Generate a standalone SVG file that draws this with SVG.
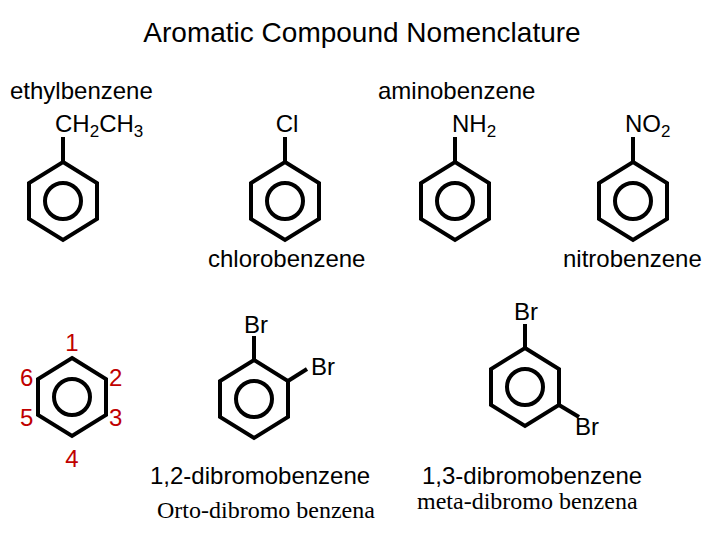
<svg xmlns="http://www.w3.org/2000/svg" width="720" height="540" viewBox="0 0 720 540">
<defs>
<style>
.r{fill:none;stroke:#000;stroke-width:4;stroke-linejoin:miter}
.b{stroke:#000;stroke-width:4}
text{font-family:"Liberation Sans",Arial,sans-serif;fill:#000;font-size:24px}
.s{font-family:"Liberation Serif","Times New Roman",serif}
.n{fill:#c00000;font-size:24px}
.sub{font-size:17px}
</style>
<g id="ring"><polygon class="r" points="0,-39 34,-18 34,18 0,39 -34,18 -34,-18"/><circle class="r" cx="0" cy="0" r="18"/></g>
</defs>
<rect width="720" height="540" fill="#fff"/>
<text x="362" y="42" style="font-size:28px" text-anchor="middle">Aromatic Compound Nomenclature</text>
<g id="connectors">
<line class="b" x1="63" y1="162" x2="63" y2="137"/>
<line class="b" x1="285" y1="162" x2="285" y2="137"/>
<line class="b" x1="455" y1="162" x2="455" y2="137"/>
<line class="b" x1="633" y1="162" x2="633" y2="137"/>
<line class="b" x1="254" y1="360" x2="254" y2="336"/>
<line class="b" x1="288" y1="381" x2="307" y2="369"/>
<line class="b" x1="525" y1="348" x2="525" y2="324"/>
<line class="b" x1="559" y1="405" x2="579" y2="417"/>
</g>
<g id="ethylbenzene"><use href="#ring" x="63" y="201"/>
<text x="10" y="99">ethylbenzene</text>
<text x="55" y="132">CH<tspan class="sub" dy="5">2</tspan><tspan dy="-5">CH</tspan><tspan class="sub" dy="5">3</tspan></text></g>
<g id="chlorobenzene"><use href="#ring" x="285" y="201"/>
<text x="287" y="132" text-anchor="middle">Cl</text>
<text x="208" y="267">chlorobenzene</text></g>
<g id="aminobenzene"><use href="#ring" x="455" y="201"/>
<text x="378" y="99">aminobenzene</text>
<text x="452" y="132">NH<tspan class="sub" dy="5">2</tspan></text></g>
<g id="nitrobenzene"><use href="#ring" x="633" y="201"/>
<text x="625" y="132">NO<tspan class="sub" dy="5">2</tspan></text>
<text x="563" y="267">nitrobenzene</text></g>
<g id="numbered"><use href="#ring" x="72" y="397"/>
<text class="n" x="72" y="351" text-anchor="middle">1</text>
<text class="n" x="109" y="386">2</text>
<text class="n" x="109" y="426">3</text>
<text class="n" x="72" y="467" text-anchor="middle">4</text>
<text class="n" x="20" y="426">5</text>
<text class="n" x="20" y="386">6</text></g>
<g id="ortho"><use href="#ring" x="254" y="399"/>
<text x="244" y="333">Br</text>
<text x="311" y="375">Br</text>
<text x="150" y="484">1,2-dibromobenzene</text>
<text class="s" x="157" y="518">Orto-dibromo benzena</text></g>
<g id="meta"><use href="#ring" x="525" y="387"/>
<text x="514" y="320">Br</text>
<text x="575" y="435">Br</text>
<text x="422" y="484">1,3-dibromobenzene</text>
<text class="s" x="417" y="509">meta-dibromo benzena</text></g>
</svg>
